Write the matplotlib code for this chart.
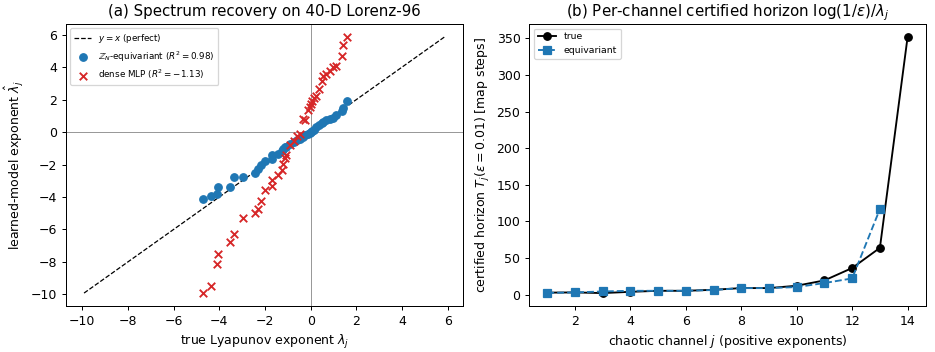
import matplotlib.pyplot as plt
import numpy as np

# (a) true Lyapunov spectrum (40-D Lorenz-96) and model predictions
lam_true = np.array([-4.70, -4.35, -4.12, -4.05, -3.52, -3.34, -2.95, -2.43, -2.31, -2.17,
                     -2.00, -1.71, -1.68, -1.42, -1.27, -1.20, -1.13, -1.06, -0.91, -0.75,
                     -0.62, -0.48, -0.33, -0.26, -0.12, -0.04,
                     0.013, 0.071, 0.128, 0.236, 0.38, 0.50, 0.54, 0.68, 0.85, 0.97,
                     1.12, 1.37, 1.40, 1.59])
lam_equiv = np.array([-4.11, -3.94, -3.82, -3.41, -3.41, -2.76, -2.76, -2.55, -2.25, -2.04,
                      -1.80, -1.43, -1.65, -1.33, -1.15, -1.02, -0.95, -0.92, -0.75, -0.62,
                      -0.51, -0.40, -0.31, -0.20, -0.10, -0.05,
                      0.00, 0.08, 0.15, 0.31, 0.45, 0.55, 0.60, 0.72, 0.82, 0.88,
                      1.02, 1.29, 1.50, 1.94])
lam_mlp = np.array([-9.92, -9.47, -8.14, -7.52, -6.75, -6.30, -5.31, -5.00, -4.74, -4.23,
                    -3.58, -3.33, -2.96, -2.66, -2.35, -1.94, -1.63, -1.43, -0.82, -0.55,
                    -0.26, -0.10, 0.82, 0.75, 1.33, 1.53,
                    1.75, 1.90, 2.10, 2.25, 2.66, 3.17, 3.48, 3.58, 3.78, 3.99,
                    4.09, 4.70, 5.38, 5.87])

# (b) certified horizons per chaotic channel
chan_true = np.arange(1, 15)
T_true = [2.9, 3.2, 2.3, 4.0, 5.4, 5.4, 6.8, 9.1, 9.1, 12.3, 19.6, 36.5, 64.0, 352.0]
chan_equiv = np.arange(1, 14)
T_equiv = [2.5, 3.2, 4.5, 5.4, 5.4, 5.4, 6.5, 9.1, 9.1, 10.5, 16.0, 22.3, 117.0]

fig = plt.figure(figsize=(935 / 90, 352 / 90), dpi=90)
ax1 = fig.add_axes([0.0706, 0.131, 0.4244, 0.801])
ax2 = fig.add_axes([0.566, 0.131, 0.424, 0.801])

lo = min(lam_mlp.min(), lam_equiv.min(), lam_true.min())
hi = max(lam_mlp.max(), lam_equiv.max(), lam_true.max())
ax1.plot([lo, hi], [lo, hi], 'k--', lw=1, label='$y=x$ (perfect)')
ax1.axhline(0, color='0.6', lw=0.8)
ax1.axvline(0, color='0.6', lw=0.8)
ax1.scatter(lam_true, lam_equiv, color='tab:blue', zorder=3,
            label=r'$\mathbb{Z}_N$-equivariant ($R^2=0.98$)')
ax1.scatter(lam_true, lam_mlp, marker='x', color='tab:red', zorder=3,
            label='dense MLP ($R^2=-1.13$)')
ax1.set_xlabel(r'true Lyapunov exponent $\lambda_j$')
ax1.set_ylabel(r'learned-model exponent $\hat{\lambda}_j$')
ax1.set_title('(a) Spectrum recovery on 40-D Lorenz-96')
ax1.legend(loc='upper left', fontsize=7)

ax2.plot(chan_true, T_true, 'k-o', ms=6, lw=1.5, label='true')
ax2.plot(chan_equiv, T_equiv, '--s', color='tab:blue', ms=6, lw=1.5, label='equivariant')
ax2.set_xlabel('chaotic channel $j$ (positive exponents)')
ax2.set_ylabel(r'certified horizon $T_j(\varepsilon=0.01)$ [map steps]')
ax2.set_title(r'(b) Per-channel certified horizon $\log(1/\varepsilon)/\lambda_j$')
ax2.legend(loc='upper left', fontsize=7.5)

fig.savefig('out.png')
